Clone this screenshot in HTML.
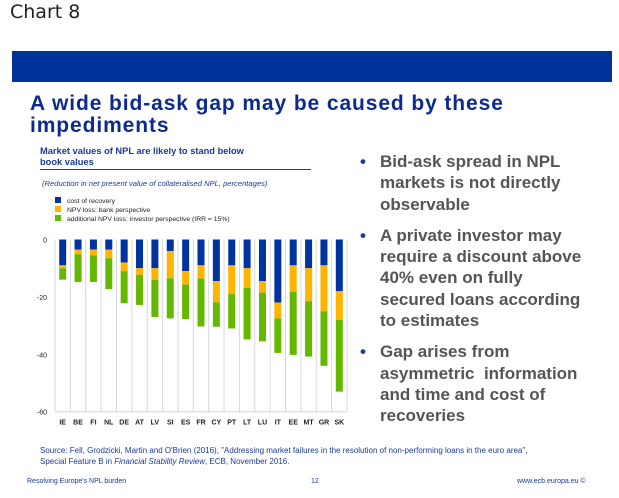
<!DOCTYPE html>
<html><head><meta charset="utf-8"><style>
body{margin:0;width:619px;height:498px;background:#fff;font-family:"Liberation Sans",sans-serif;overflow:hidden;position:relative}
.abs{position:absolute}
#bul div{position:relative;padding-left:20px;margin-bottom:10px}
#bul div:before{content:"•";position:absolute;left:0px;color:#1a3a9a}
</style></head><body>
<div class="abs" style="left:10px;top:1px;font-size:19px;color:#222;font-family:'DejaVu Sans',sans-serif">Chart 8</div>
<div class="abs" style="left:12px;top:51px;width:600px;height:31px;background:#003399"></div>
<div class="abs" style="left:30px;top:93px;font-size:21px;letter-spacing:0.9px;font-weight:bold;color:#0d2a8f;line-height:22px">A wide bid-ask gap may be caused by these<br>impediments</div>
<div class="abs" style="left:40px;top:146px;font-size:9.3px;font-weight:bold;color:#1a3a9a;line-height:10.5px;width:271px;border-bottom:1px solid #1a3a9a;padding-bottom:2px">Market values of NPL are likely to stand below<br>book values</div>
<div class="abs" style="left:42px;top:179px;font-size:7.6px;font-style:italic;color:#1a3a9a">(Reduction in net present value of collateralised NPL, percentages)</div>
<div id="bul" class="abs" style="left:360px;top:151px;width:250px;font-size:17px;font-weight:bold;color:#555;line-height:21.3px">
<div>Bid-ask spread in NPL<br>markets is not directly<br>observable</div>
<div>A private investor may<br>require a discount above<br>40% even on fully<br>secured loans according<br>to estimates</div>
<div>Gap arises from<br>asymmetric&nbsp; information<br>and time and cost of<br>recoveries</div>
</div>
<div class="abs" style="left:40px;top:445px;font-size:8px;color:#1a3a9a;line-height:11px">Source: Fell, Grodzicki, Martin and O'Brien (2016), "Addressing market failures in the resolution of non-performing loans in the euro area",<br>Special Feature B in <i>Financial Stability Review</i>, ECB, November 2016.</div>
<div class="abs" style="left:27px;top:478px;font-size:7px;color:#1a3a9a">Resolving Europe's NPL burden</div>
<div class="abs" style="left:311px;top:478px;font-size:7px;color:#1a3a9a">12</div>
<div class="abs" style="left:517px;top:478px;font-size:7px;color:#1a3a9a">www.ecb.europa.eu ©</div>
<svg id="chart" class="abs" style="left:0;top:0" width="619" height="498"></svg>
<script>
const categories=["IE","BE","FI","NL","DE","AT","LV","SI","ES","FR","CY","PT","LT","LU","IT","EE","MT","GR","SK"];
const costRecovery=[9,3.5,3.5,3.5,8,10,10,4,11,9,14.5,9,10,14.5,22,9,10,9,18];
const bankNpvLoss=[1,1.7,2,3,3,2.3,4,9.5,4.7,4.6,7.4,10,6.8,4,5.5,9.2,11.5,16,10];
const investorNpvLoss=[4,9.6,9.3,10.8,11.2,10.5,13,14,12,16.7,8.5,12,18,17,12,22,19.3,19,25];
const yTicks=[0,-20,-40,-60];
const legendLabels=["cost of recovery","NPV loss: bank perspective","additional NPV loss: investor perspective (IRR = 15%)"];
const colors=["#0033a0","#ffb400","#65b800"];
const NS="http://www.w3.org/2000/svg";
const svg=document.getElementById('chart');
const x0=55,x1=347,yTop=239.5,pxPerUnit=2.87;
const step=(x1-x0)/categories.length;
function xPos(i){return x0+step*(i+0.5);}
function yPos(v){return yTop-v*pxPerUnit;}
function mk(t,a){const e=document.createElementNS(NS,t);for(const k in a)e.setAttribute(k,a[k]);svg.appendChild(e);return e;}
for(let i=0;i<=categories.length;i++){
 const g=mk('line',{x1:x0+step*i,x2:x0+step*i,y1:yPos(0),y2:yPos(-60),stroke:'#d8d8d8','stroke-width':1});
 
 
}
const bl=mk('line',{x1:x0,x2:x1,y1:yPos(-60),y2:yPos(-60),stroke:'#d8d8d8'});


yTicks.forEach(v=>{
 const t=mk('text',{x:x0-8,y:yPos(v)+3,'text-anchor':'end','font-size':7,fill:'#222'});
 t.textContent=v;
 
 
});
const series=[costRecovery,bankNpvLoss,investorNpvLoss];
const names=['cost-of-recovery','bank-npv-loss','investor-npv-loss'];
categories.forEach((c,i)=>{
 let acc=0;
 series.forEach((s,k)=>{
  const top=yPos(-acc),bot=yPos(-(acc+s[i]));
  const r=mk('rect',{x:xPos(i)-3.5,y:top,width:7,height:bot-top,fill:colors[k]});
  
  
  acc+=s[i];
 });
 const t=mk('text',{x:xPos(i),y:yPos(-60)+13,'text-anchor':'middle','font-size':7,'font-weight':'bold',fill:'#222'});
 t.textContent=c;
 
 
});
legendLabels.forEach((l,k)=>{
 const y=197+k*9;
 const r=mk('rect',{x:55,y:y,width:6,height:6,fill:colors[k]});
 
 
 const t=mk('text',{x:67,y:y+6,'font-size':6.8,fill:'#222'});
 t.textContent=l;
 
 
});
</script>
</body></html>
